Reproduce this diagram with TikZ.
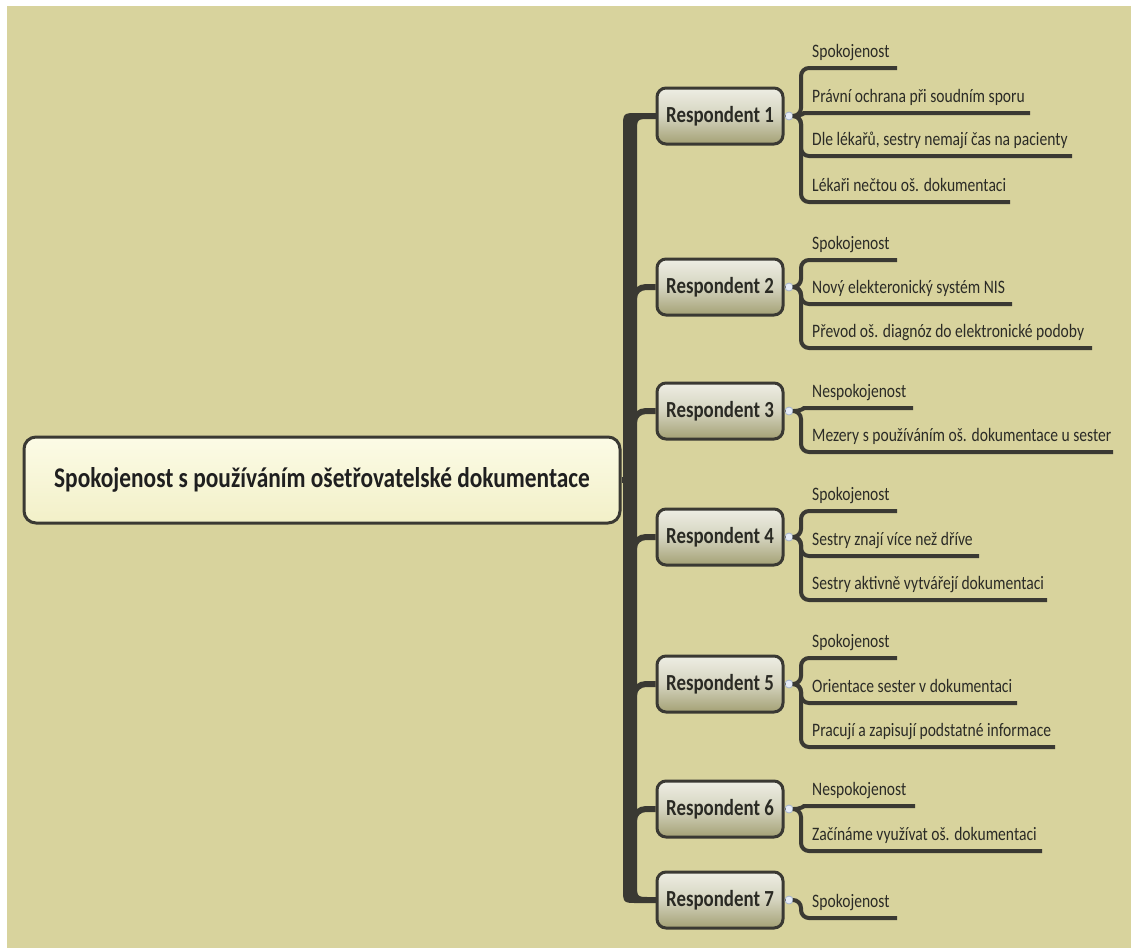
\documentclass[tikz,border=0pt]{standalone}
\usepackage{fontspec}
\setmainfont{Carlito}[FakeStretch=0.82]
\usetikzlibrary{calc}
\definecolor{bgk}{HTML}{D8D39D}
\definecolor{ink}{HTML}{3A3933}
\definecolor{respTop}{HTML}{EEEEE4}
\definecolor{respMid}{HTML}{D4D3BE}
\definecolor{respBot}{HTML}{A4A175}
\definecolor{respText}{HTML}{2A2A24}
\definecolor{leafText}{HTML}{2B2B26}
\definecolor{mainTop}{HTML}{FCFBE6}
\definecolor{mainBot}{HTML}{F2F0C8}
\definecolor{knobF}{HTML}{E6ECF6}
\definecolor{knobD}{HTML}{A6B4CC}
\tikzset{
  resp/.style={draw=ink, line width=3pt, rounded corners=9pt, minimum width=126pt,
    minimum height=56pt, top color=respTop, bottom color=respBot, middle color=respMid,
    font=\fontsize{23}{27}\selectfont\bfseries, text=respText, inner sep=0pt},
  mainbox/.style={draw=ink, line width=3pt, rounded corners=12pt, minimum width=596pt,
    minimum height=86pt, top color=mainTop, bottom color=mainBot,
    font=\fontsize{28.5}{33}\selectfont\bfseries, text=black!88, inner sep=0pt},
  leaftext/.style={anchor=base west, font=\fontsize{19}{23}\selectfont, text=leafText, inner sep=0pt},
  leafline/.style={draw=ink, line width=4pt, rounded corners=8pt},
  knob/.style={circle, draw=knobD, fill=knobF, line width=0.8pt, minimum size=8pt, inner sep=0pt},
  branch/.style={draw=ink, line width=6pt},
  stub/.style={draw=ink!70, line width=1.5pt},
}
\begin{document}
\begin{tikzpicture}[x=1pt,y=-1pt]
\useasboundingbox (0,0) rectangle (1131,948);
\fill[white] (0,0) rectangle (1131,948);
\fill[bgk] (7,6) rectangle (1131,948);

% trunk
\fill[ink] (657,113) -- (638,113) .. controls (623,113) .. (623,128) -- (623,888)
  .. controls (623,903) .. (638,903) -- (657,903) -- (657,897) -- (650,897)
  .. controls (637,897) .. (637,884) -- (637,132) .. controls (637,119) .. (650,119)
  -- (657,119) -- cycle;

% main node
\node[mainbox] (main) at (322,480) {Spokojenost s používáním ošetřovatelské dokumentace};
\coordinate (tm) at (626,480);
\draw[branch] (main.east) -- (tm);

% respondents
\node[resp] (R1) at (720,116) {Respondent 1};
\node[resp] (R2) at (720,287) {Respondent 2};
\node[resp] (R3) at (720,411) {Respondent 3};
\node[resp] (R4) at (720,537) {Respondent 4};
\node[resp] (R5) at (720,684) {Respondent 5};
\node[resp] (R6) at (720,809) {Respondent 6};
\node[resp] (R7) at (720,900) {Respondent 7};

\foreach \r/\y in {R2/287,R3/411,R4/537,R5/684,R6/809}{
  \coordinate (j\r) at (634,\y+11);
  \draw[branch] (j\r) to[out=90,in=180] (646,\y) -- (\r.west);
}

% knobs
\foreach \k/\y in {1/116,2/287,3/411,4/537,5/684,6/809,7/900}{
  \node[knob] (k\k) at (789,\y) {};
  \draw[stub] (R\k.east) -- (k\k.west);
}

% ---- Respondent 1
\draw[leafline] (k1.east) -- (801,116) -- (801,68) -- (897,68);
\node[leaftext] (t1a) at (812,57) {Spokojenost};
\draw[leafline] (k1.east) to[out=0,in=180] (812,113) -- (1030,113);
\node[leaftext] (t1b) at (812,102) {Právní ochrana při soudním sporu};
\draw[leafline] (k1.east) -- (801,116) -- (801,156) -- (1072,156);
\node[leaftext] (t1c) at (812,145) {Dle lékařů, sestry nemají čas na pacienty};
\draw[leafline] (k1.east) -- (801,116) -- (801,202) -- (1010,202);
\node[leaftext] (t1d) at (812,191) {Lékaři nečtou oš. dokumentaci};

% ---- Respondent 2
\draw[leafline] (k2.east) -- (801,287) -- (801,260) -- (897,260);
\node[leaftext] (t2a) at (812,249) {Spokojenost};
\draw[leafline] (k2.east) -- (801,287) -- (801,304) -- (1012,304);
\node[leaftext] (t2b) at (812,293) {Nový elekteronický systém NIS};
\draw[leafline] (k2.east) -- (801,287) -- (801,348) -- (1092,348);
\node[leaftext] (t2c) at (812,337) {Převod oš. diagnóz do elektronické podoby};

% ---- Respondent 3
\draw[leafline] (k3.east) to[out=0,in=180] (812,408) -- (913,408);
\node[leaftext] (t3a) at (812,397) {Nespokojenost};
\draw[leafline] (k3.east) -- (801,411) -- (801,452) -- (1113,452);
\node[leaftext] (t3b) at (812,441) {Mezery s používáním oš. dokumentace u sester};

% ---- Respondent 4
\draw[leafline] (k4.east) -- (801,537) -- (801,511) -- (897,511);
\node[leaftext] (t4a) at (812,500) {Spokojenost};
\draw[leafline] (k4.east) -- (801,537) -- (801,556) -- (979,556);
\node[leaftext] (t4b) at (812,545) {Sestry znají více než dříve};
\draw[leafline] (k4.east) -- (801,537) -- (801,600) -- (1047,600);
\node[leaftext] (t4c) at (812,589) {Sestry aktivně vytvářejí dokumentaci};

% ---- Respondent 5
\draw[leafline] (k5.east) -- (801,684) -- (801,658) -- (897,658);
\node[leaftext] (t5a) at (812,647) {Spokojenost};
\draw[leafline] (k5.east) -- (801,684) -- (801,703) -- (1017,703);
\node[leaftext] (t5b) at (812,692) {Orientace sester v dokumentaci};
\draw[leafline] (k5.east) -- (801,684) -- (801,747) -- (1055,747);
\node[leaftext] (t5c) at (812,736) {Pracují a zapisují podstatné informace};

% ---- Respondent 6
\draw[leafline] (k6.east) to[out=0,in=180] (812,806) -- (915,806);
\node[leaftext] (t6a) at (812,795) {Nespokojenost};
\draw[leafline] (k6.east) -- (801,809) -- (801,851) -- (1042,851);
\node[leaftext] (t6b) at (812,840) {Začínáme využívat oš. dokumentaci};

% ---- Respondent 7
\draw[leafline] (k7.east) -- (801,900) -- (801,918) -- (897,918);
\node[leaftext] (t7a) at (812,907) {Spokojenost};
\end{tikzpicture}
\end{document}
